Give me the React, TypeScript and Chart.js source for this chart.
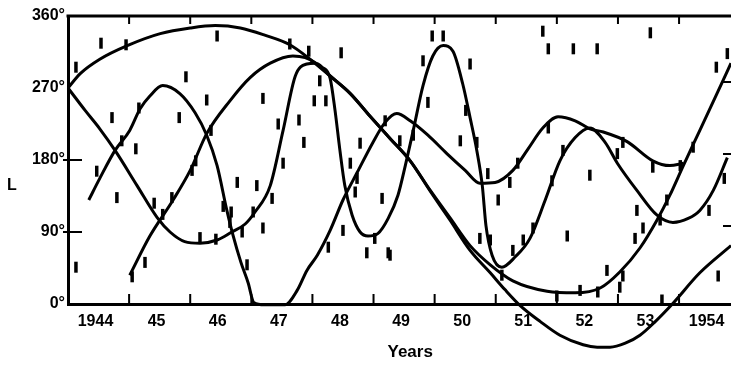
import React, { useEffect, useRef } from 'react';
import { Chart, registerables } from 'chart.js';

Chart.register(...registerables);

// ---- axis data ----
const yearStarts = [1944, 1945, 1946, 1947, 1948, 1949, 1950, 1951, 1952, 1953, 1954];
const yearLabels = ['1944', '45', '46', '47', '48', '49', '50', '51', '52', '53', '1954'];
const longitudeTicks = [0, 90, 180, 270, 360];
const xMin = 1944;
const xMax = 1954.85;

// ---- curves: [year, L (deg)] ----
const curveA: [number, number][] = [
  [1944.0, 270], [1944.2, 288], [1944.52, 306], [1944.97, 323], [1945.51, 338], [1946.0, 345],
  [1946.41, 348], [1946.82, 345], [1947.22, 336], [1947.63, 324], [1947.96, 306], [1948.29, 285],
  [1948.62, 263], [1948.94, 235], [1949.27, 207], [1949.6, 179], [1949.92, 142], [1950.25, 105],
  [1950.58, 67], [1950.91, 39], [1951.15, 18], [1951.4, -2], [1951.73, -22], [1952.05, -39],
  [1952.43, -51], [1952.66, -54], [1952.87, -54], [1953.12, -49], [1953.36, -39], [1953.61, -22],
  [1953.89, 0], [1954.34, 39], [1954.85, 73],
];

const curveB: [number, number][] = [
  [1944.0, 270], [1944.28, 242], [1944.52, 219], [1944.77, 192], [1945.13, 148], [1945.46, 108],
  [1945.67, 90], [1945.91, 78], [1946.16, 76], [1946.44, 80], [1946.68, 90], [1946.9, 100],
  [1947.06, 115], [1947.31, 148], [1947.52, 217], [1947.72, 285], [1947.91, 300], [1948.04, 301],
  [1948.16, 296], [1948.29, 282], [1948.37, 242], [1948.45, 192], [1948.53, 148], [1948.65, 111],
  [1948.78, 90], [1948.91, 85], [1949.07, 88], [1949.24, 107], [1949.4, 136], [1949.52, 173],
  [1949.65, 217], [1949.81, 273], [1949.97, 310], [1950.14, 323], [1950.3, 316], [1950.46, 275],
  [1950.58, 233], [1950.69, 192], [1950.78, 148], [1950.84, 98], [1950.94, 61], [1951.1, 46],
  [1951.32, 59], [1951.56, 82], [1951.81, 130], [1952.05, 179], [1952.3, 208], [1952.54, 220],
  [1952.79, 202], [1952.99, 176], [1953.31, 142], [1953.64, 111], [1953.9, 102], [1954.15, 107],
  [1954.34, 117], [1954.56, 142], [1954.79, 183],
];

const curveC: [number, number][] = [
  [1944.34, 130], [1944.52, 157], [1944.77, 192], [1945.01, 217], [1945.18, 244], [1945.34, 260],
  [1945.55, 273], [1945.83, 263], [1946.08, 239], [1946.27, 211], [1946.44, 173], [1946.6, 117],
  [1946.7, 86], [1946.83, 52], [1946.95, 26], [1947.04, 2], [1947.22, -1], [1947.55, -1],
  [1947.75, 17], [1947.91, 42], [1948.08, 61], [1948.29, 92], [1948.5, 130], [1948.73, 164],
  [1948.99, 202], [1949.19, 227], [1949.38, 238], [1949.6, 229], [1949.89, 211], [1950.2, 188],
  [1950.5, 167], [1950.74, 151], [1950.99, 152], [1951.28, 167], [1951.53, 194], [1951.77, 220],
  [1952.02, 234], [1952.3, 229], [1952.54, 219], [1952.76, 215], [1953.15, 203], [1953.57, 179],
  [1953.85, 173], [1954.07, 176],
];

const curveD: [number, number][] = [
  [1945.01, 36], [1945.34, 85], [1945.72, 130], [1946.0, 167], [1946.27, 213], [1946.65, 254],
  [1946.98, 283], [1947.31, 301], [1947.68, 310], [1947.88, 308], [1948.04, 302], [1948.29, 285],
  [1948.62, 263], [1948.94, 235], [1949.27, 207], [1949.6, 179], [1949.92, 143], [1950.25, 108],
  [1950.58, 73], [1950.91, 49], [1951.28, 29], [1951.84, 16], [1952.3, 14], [1952.71, 20],
  [1953.03, 40], [1953.36, 70], [1953.64, 105], [1953.85, 136], [1954.07, 173], [1954.34, 217],
  [1954.62, 263], [1954.85, 301],
];

// ---- individual observations: [year, L (deg)] ----
const observations: [number, number][] = [
  [1944.13, 296], [1944.54, 326], [1944.95, 324], [1946.44, 335], [1945.93, 284], [1946.27, 255],
  [1945.82, 233], [1945.16, 245], [1944.72, 233], [1944.88, 204], [1945.11, 194], [1944.47, 166],
  [1944.8, 133], [1945.41, 126], [1945.55, 112], [1945.7, 133], [1946.03, 167], [1946.09, 179],
  [1946.34, 217], [1946.77, 152], [1946.54, 122], [1946.67, 115], [1946.16, 83], [1946.42, 81],
  [1946.65, 102], [1946.85, 90], [1946.93, 49], [1945.26, 52], [1945.05, 34], [1944.13, 46],
  [1947.63, 325], [1947.94, 316], [1948.47, 314], [1948.12, 279], [1947.19, 257], [1948.03, 254],
  [1948.22, 254], [1947.44, 225], [1947.78, 230], [1947.86, 202], [1947.52, 176], [1947.09, 148],
  [1947.34, 132], [1947.03, 115], [1947.19, 95], [1948.26, 71], [1948.5, 92], [1948.7, 140],
  [1948.73, 157], [1949.14, 132], [1948.89, 64], [1949.02, 82], [1949.24, 64], [1948.78, 201],
  [1948.62, 176], [1949.19, 229], [1949.27, 61],
  [1949.96, 335], [1950.14, 335], [1950.58, 300], [1949.89, 252], [1950.42, 204], [1950.69, 202],
  [1950.51, 242], [1949.81, 304], [1949.43, 204], [1949.65, 211], [1950.87, 163], [1951.36, 176],
  [1951.23, 152], [1951.86, 220], [1951.04, 130], [1950.74, 82], [1951.28, 67], [1951.45, 80],
  [1951.61, 95], [1951.1, 36], [1951.77, 341], [1951.86, 319], [1950.91, 80], [1952.1, 192],
  [1951.92, 154],
  [1952.27, 319], [1952.66, 319], [1953.53, 339], [1954.79, 313], [1954.61, 296], [1954.23, 196],
  [1954.02, 173], [1953.57, 171], [1952.99, 188], [1953.08, 202], [1952.54, 161], [1953.31, 117],
  [1953.8, 130], [1954.49, 117], [1954.74, 157], [1952.17, 85], [1953.28, 82], [1953.41, 95],
  [1952.82, 42], [1953.08, 35], [1953.03, 21], [1952.38, 17], [1952.67, 15], [1952.0, 10],
  [1953.72, 5], [1954.64, 35], [1953.69, 105],
];

const FONT = '"Liberation Sans", Arial, sans-serif';

const toXY = (pts: [number, number][]) => pts.map(([x, y]) => ({ x, y }));

const curveDataset = (pts: [number, number][]) => ({
  type: 'line' as const,
  data: toXY(pts),
  showLine: true,
  borderColor: '#000',
  borderWidth: 3,
  pointRadius: 0,
  fill: false,
  cubicInterpolationMode: 'monotone' as const,
  clip: false as any,
});

const framePlugin = {
  id: 'frame',
  afterDatasetsDraw(chart: any) {
    const { ctx, chartArea, scales } = chart;
    const x = scales.x;
    const y = scales.y;
    const top = y.getPixelForValue(360);
    const bottom = y.getPixelForValue(0);
    ctx.save();
    ctx.strokeStyle = '#000';
    ctx.lineCap = 'butt';
    // top border
    ctx.lineWidth = 3;
    ctx.beginPath();
    ctx.moveTo(chartArea.left - 1.5, top);
    ctx.lineTo(chartArea.right, top);
    ctx.stroke();
    // inward year-boundary ticks on top and bottom
    ctx.lineWidth = 2;
    yearStarts.forEach((yr) => {
      if (yr <= xMin) return;
      const px = x.getPixelForValue(yr);
      if (px > chartArea.right) return;
      ctx.beginPath();
      ctx.moveTo(px, bottom);
      ctx.lineTo(px, bottom - 10);
      ctx.moveTo(px, top);
      ctx.lineTo(px, top + 8);
      ctx.stroke();
    });
    // left axis ticks
    [90, 180].forEach((v) => {
      const py = y.getPixelForValue(v);
      ctx.beginPath();
      ctx.moveTo(chartArea.left - 5, py);
      ctx.lineTo(chartArea.left + 14, py);
      ctx.stroke();
    });
    // right edge ticks
    [90, 180, 270].forEach((v) => {
      const py = y.getPixelForValue(v) - 6;
      ctx.beginPath();
      ctx.moveTo(chartArea.right - 8, py);
      ctx.lineTo(chartArea.right, py);
      ctx.stroke();
    });
    // "L" axis label (upright)
    ctx.fillStyle = '#000';
    ctx.font = `bold 16px ${FONT}`;
    ctx.textAlign = 'center';
    ctx.textBaseline = 'middle';
    ctx.fillText('L', 12, y.getPixelForValue(148));
    // "Years" axis title
    ctx.font = `bold 17px ${FONT}`;
    ctx.fillText('Years', x.getPixelForValue(1949.6), 352);
    ctx.restore();
  },
};

export default function App() {
  const canvasRef = useRef<HTMLCanvasElement | null>(null);

  useEffect(() => {
    const canvas = canvasRef.current;
    if (!canvas) return;
    const chart = new Chart(canvas, {
      type: 'scatter',
      data: {
        datasets: [
          curveDataset(curveA),
          curveDataset(curveB),
          curveDataset(curveC),
          curveDataset(curveD),
          {
            type: 'scatter',
            data: toXY(observations),
            showLine: false,
            pointStyle: 'line',
            rotation: 90,
            pointRadius: 5.5,
            pointHoverRadius: 5.5,
            borderWidth: 3.5,
            borderColor: '#000',
            backgroundColor: '#000',
            clip: false as any,
          } as any,
        ],
      },
      options: {
        animation: false,
        responsive: false,
        events: [],
        layout: { autoPadding: false, padding: { top: 16, right: 0, bottom: 0, left: 0 } },
        plugins: {
          legend: { display: false },
          tooltip: { enabled: false },
        },
        scales: {
          x: {
            type: 'linear',
            min: xMin,
            max: xMax,
            grid: { display: false, drawTicks: false },
            border: { display: true, width: 3, color: '#000' },
            afterBuildTicks: (scale: any) => {
              scale.ticks = yearStarts.map((yr) => ({ value: yr + 0.45 }));
            },
            afterFit: (scale: any) => {
              scale.height = 61;
              scale.paddingLeft = 0;
              scale.paddingRight = 0;
            },
            ticks: {
              autoSkip: false,
              maxRotation: 0,
              padding: 8,
              color: '#000',
              font: { family: FONT, size: 16, weight: 'bold' },
              callback: (_v: any, i: number) => yearLabels[i],
            },
          },
          y: {
            type: 'linear',
            min: 0,
            max: 360,
            grid: { display: false, drawTicks: false },
            border: { display: true, width: 3, color: '#000' },
            afterBuildTicks: (scale: any) => {
              scale.ticks = longitudeTicks.map((v) => ({ value: v }));
            },
            afterFit: (scale: any) => {
              scale.width = 68;
              scale.paddingTop = 0;
              scale.paddingBottom = 0;
            },
            ticks: {
              padding: 3,
              color: '#000',
              font: { family: FONT, size: 16, weight: 'bold' },
              callback: (v: any) => `${v}°`,
            },
          },
        },
      } as any,
      plugins: [framePlugin],
    });
    return () => chart.destroy();
  }, []);

  return (
    <div style={{ position: 'absolute', left: 0, top: 0, width: 731, height: 365, background: '#fff' }}>
      <canvas ref={canvasRef} width={731} height={365} />
    </div>
  );
}
